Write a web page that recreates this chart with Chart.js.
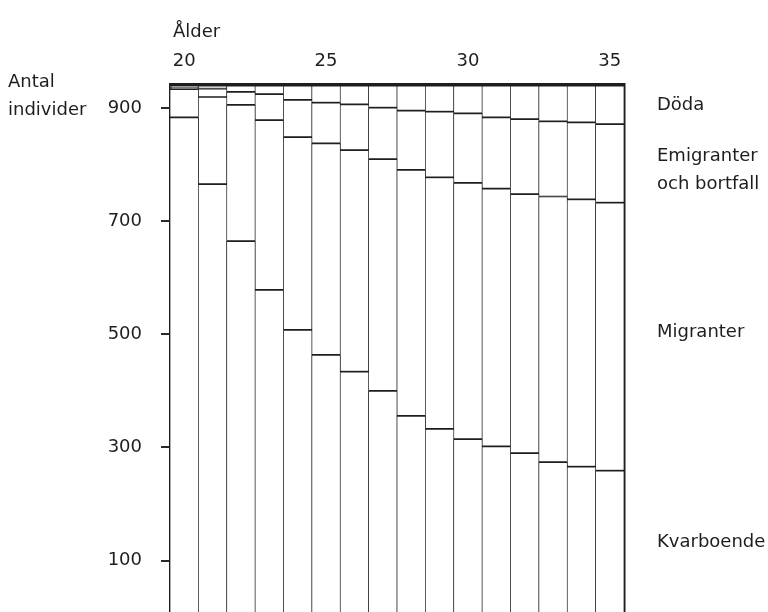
<!DOCTYPE html>
<html lang="sv">
<head>
<meta charset="utf-8">
<title>Antal individer efter ålder</title>
<script src="https://cdn.jsdelivr.net/npm/chart.js@4.4.1/dist/chart.umd.min.js"></script>
<style>
  html, body { margin: 0; padding: 0; background: #fff; }
  #wrap { position: relative; width: 768px; height: 612px; overflow: hidden; }
  #wrap canvas { position: absolute; left: 0; top: 0; }
  .lbl { position: absolute; font-family: 'DejaVu Sans', sans-serif; font-size: 18px;
         line-height: 18px; color: #1e1e1e; white-space: nowrap; }
</style>
</head>
<body>
<div id="wrap">
  <canvas id="chart" width="768" height="612"></canvas>
  <div class="lbl" style="left:173px; top:22px;">Ålder</div>
  <div class="lbl" style="left:8px; top:72px;">Antal</div>
  <div class="lbl" style="left:8px; top:100px;">individer</div>
  <div class="lbl" style="left:657px; top:95px;">Döda</div>
  <div class="lbl" style="left:657px; top:146px;">Emigranter</div>
  <div class="lbl" style="left:657px; top:174px;">och bortfall</div>
  <div class="lbl" style="left:657px; top:322px;">Migranter</div>
  <div class="lbl" style="left:657px; top:532px;">Kvarboende</div>
</div>
<script>
'use strict';

// ── data (läst ur diagrammet) ───────────────────────────────────
var ages       = ['20', '21', '22', '23', '24', '25', '26', '27', '28', '29', '30', '31', '32', '33', '34', '35'];
var kvarboende = [884, 766, 665, 579, 508, 464, 434, 400, 356, 333, 315, 302, 290, 274, 266, 259];
var migranter  = [ 50, 154, 241, 300, 341, 374, 392, 410, 435, 445, 453, 456, 458, 470, 473, 474];
var emigranter = [  4,  15,  23,  46,  66,  72,  81,  91, 105, 116, 123, 126, 133, 133, 136, 139];
var doda       = [  2,   5,  11,  15,  25,  30,  33,  39,  44,  46,  49,  56,  59,  63,  65,  68];

var yTicks      = [100, 300, 500, 700, 900];
var xTickLabels = ['20', '25', '30', '35'];

// ── diagram ─────────────────────────────────────────────────────
Chart.defaults.font.family = "'DejaVu Sans', sans-serif";
Chart.defaults.font.size = 18;
Chart.defaults.color = '#1e1e1e';

function segment(label, data) {
  return {
    label: label,
    data: data,
    backgroundColor: '#ffffff',
    borderColor: '#1f1f1f',
    borderWidth: { top: 1.2, bottom: 1.2, left: 0.7, right: 0.7 },
    borderSkipped: false,
    barPercentage: 1,
    categoryPercentage: 1
  };
}

// axlarnas egna marginaler nollas så att plotytan går ända ner
function noPad(scale) {
  scale.paddingTop = 0;
  scale.paddingBottom = 0;
}

new Chart(document.getElementById('chart').getContext('2d'), {
  type: 'bar',
  data: {
    labels: ages,
    datasets: [
      segment('Kvarboende', kvarboende),
      segment('Migranter', migranter),
      segment('Emigranter och bortfall', emigranter),
      segment('Döda', doda)
    ]
  },
  options: {
    responsive: false,
    animation: false,
    layout: { padding: 0 },
    plugins: { legend: { display: false }, tooltip: { enabled: false } },
    scales: {
      x: {
        position: 'top',
        stacked: true,
        grid: { display: false, drawTicks: false },
        border: { display: true, width: 3, color: '#1e1e1e' },
        ticks: {
          autoSkip: false,
          maxRotation: 0,
          padding: 12,
          callback: function (value) {
            var lab = this.getLabelForValue(value);
            return xTickLabels.indexOf(lab) !== -1 ? lab : '';
          }
        },
        afterFit: function (scale) {
          scale.height = 84;
          scale.paddingLeft = 0;
          scale.paddingRight = 0;
        }
      },
      y: {
        position: 'left',
        stacked: true,
        min: 9,
        max: 943,
        afterBuildTicks: function (scale) {
          scale.ticks = yTicks.map(function (v) { return { value: v }; });
        },
        grid: { display: true, drawOnChartArea: false, drawTicks: true, tickLength: 9, color: '#2a2a2a', lineWidth: 2 },
        border: { display: true, width: 3, color: '#1e1e1e' },
        ticks: { padding: 19 },
        afterFit: function (scale) { scale.width = 170; noPad(scale); }
      },
      y2: {
        position: 'right',
        min: 9,
        max: 943,
        grid: { display: false, drawTicks: false },
        border: { display: true, width: 2.5, color: '#1e1e1e' },
        ticks: { display: false },
        afterFit: function (scale) { scale.width = 144; noPad(scale); }
      }
    }
  }
});
</script>
</body>
</html>
